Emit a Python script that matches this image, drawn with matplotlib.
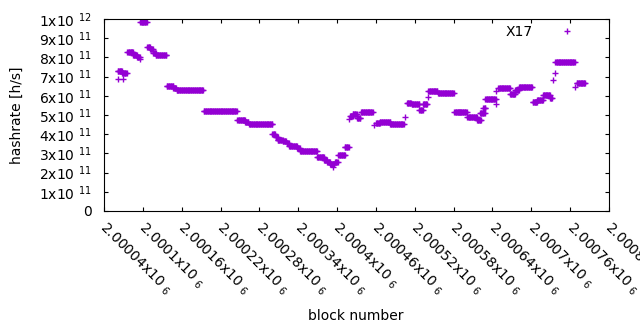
import numpy as np
import matplotlib
matplotlib.use("Agg")
import matplotlib.pyplot as plt
from matplotlib.transforms import ScaledTranslation

plt.rcParams["font.family"] = ["DejaVu Sans"]
plt.rcParams["mathtext.fontset"] = "dejavusans"

block_base = 2000000

# runs of constant hashrate: first block, last block (offset from block_base), hashrate in 1e11 h/s
seg_start = [62, 69, 61, 68, 76, 85, 91, 96, 96, 107, 111, 116, 120,
             137, 147, 152, 194, 246, 258, 264, 300, 305, 308, 316, 322,
             326, 338, 343, 369, 380, 385, 389, 394, 397, 402, 412, 419,
             420, 424, 431, 437, 457, 460, 466, 482, 505, 508, 515, 527,
             533, 540, 541, 556, 581, 590, 601, 616, 621, 626, 629, 646,
             646, 649, 667, 675, 681, 702, 709, 718, 729, 733, 736, 737,
             768, 770]
seg_end = [62, 69, 68, 75, 85, 91, 95, 96, 106, 111, 115, 120, 136,
           147, 151, 193, 245, 258, 263, 300, 304, 308, 316, 321, 325,
           338, 342, 369, 380, 384, 389, 396, 394, 401, 412, 418, 419,
           424, 430, 436, 455, 457, 466, 482, 503, 505, 514, 527, 532,
           539, 540, 555, 580, 590, 600, 616, 622, 628, 629, 645, 646,
           646, 667, 675, 681, 701, 709, 718, 729, 732, 733, 736, 767,
           768, 783]
seg_value = [6.86, 6.86, 7.30, 7.20, 8.27, 8.15, 8.01, 7.90, 9.83, 8.54, 8.43, 8.24, 8.11,
             6.49, 6.41, 6.28, 5.23, 4.72, 4.61, 4.51, 3.99, 3.84, 3.70, 3.62, 3.52,
             3.41, 3.28, 3.11, 2.79, 2.66, 2.54, 2.45, 2.28, 2.54, 2.90, 3.32, 4.78,
             4.96, 5.05, 4.83, 5.14, 4.47, 4.56, 4.62, 4.52, 4.92, 5.62, 5.55, 5.25,
             5.59, 5.93, 6.27, 6.13, 5.17, 5.14, 4.89, 4.72, 5.09, 5.35, 5.82, 5.55,
             6.27, 6.39, 6.11, 6.32, 6.48, 5.68, 5.76, 6.04, 5.87, 6.82, 7.17, 7.74,
             6.48, 6.67]

xtick_values = [2000040, 2000100, 2000160, 2000220, 2000280, 2000340, 2000400,
                2000460, 2000520, 2000580, 2000640, 2000700, 2000760, 2000820]
xtick_labels = ["2.00004", "2.0001", "2.00016", "2.00022", "2.00028", "2.00034", "2.0004",
                "2.00046", "2.00052", "2.00058", "2.00064", "2.0007", "2.00076", "2.00082"]
ytick_mantissa = ["0", "1", "2", "3", "4", "5", "6", "7", "8", "9", "1"]
ytick_exponent = ["", "11", "11", "11", "11", "11", "11", "11", "11", "11", "12"]

# one point per block
blocks = []
rates = []
for s, e, v in zip(seg_start, seg_end, seg_value):
    for b in range(s, e + 1):
        blocks.append(block_base + b)
        rates.append(v * 1e11)

fig = plt.figure(figsize=(6.4, 3.3), dpi=100)
ax = fig.add_axes([104 / 640, 1 - 211 / 330, 505 / 640, 192 / 330])

ax.plot(blocks, rates, linestyle="none", marker="+", markersize=5,
        markeredgewidth=1.0, color="#9400D3", antialiased=False, label="X17")

ax.set_xlim(xtick_values[0], xtick_values[-1])
ax.set_ylim(0, 1e12)

ax.set_xticks(xtick_values)
ax.set_xticklabels([t + "x10 $_{6}$" for t in xtick_labels],
                   rotation=-45, ha="left", va="top", rotation_mode="anchor")
yt = np.arange(0, 11) * 1e11
ax.set_yticks(yt)
ax.set_yticklabels([m if e == "" else m + "x10 $^{" + e + "}$"
                    for m, e in zip(ytick_mantissa, ytick_exponent)])

ax.tick_params(axis="both", direction="in", length=3, width=0.8,
               top=True, right=True, labelsize=10, colors="black")
ax.tick_params(axis="x", pad=6)
ax.tick_params(axis="y", pad=9)
for lab in ax.get_xticklabels():
    lab.set_transform(lab.get_transform() + ScaledTranslation(4 / 100, 0, fig.dpi_scale_trans))
for sp in ax.spines.values():
    sp.set_linewidth(0.8)

ax.set_ylabel("hashrate [h/s]", fontsize=10)
ax.yaxis.set_label_coords(17 / 640, 1 - 115 / 330, transform=fig.transFigure)
ax.set_xlabel("block number", fontsize=10)
ax.xaxis.set_label_coords(356 / 640, 1 - 316 / 330, transform=fig.transFigure)
ax.xaxis.label.set_va("center")
ax.yaxis.label.set_va("center")

ax.legend(loc="center right", bbox_to_anchor=(584 / 640, 1 - 32 / 330),
          bbox_transform=fig.transFigure, frameon=False, markerfirst=False,
          handlelength=2.5, handletextpad=1.2, borderpad=0, borderaxespad=0,
          fontsize=10)

fig.savefig("out.png", dpi=100)
plt.close(fig)
